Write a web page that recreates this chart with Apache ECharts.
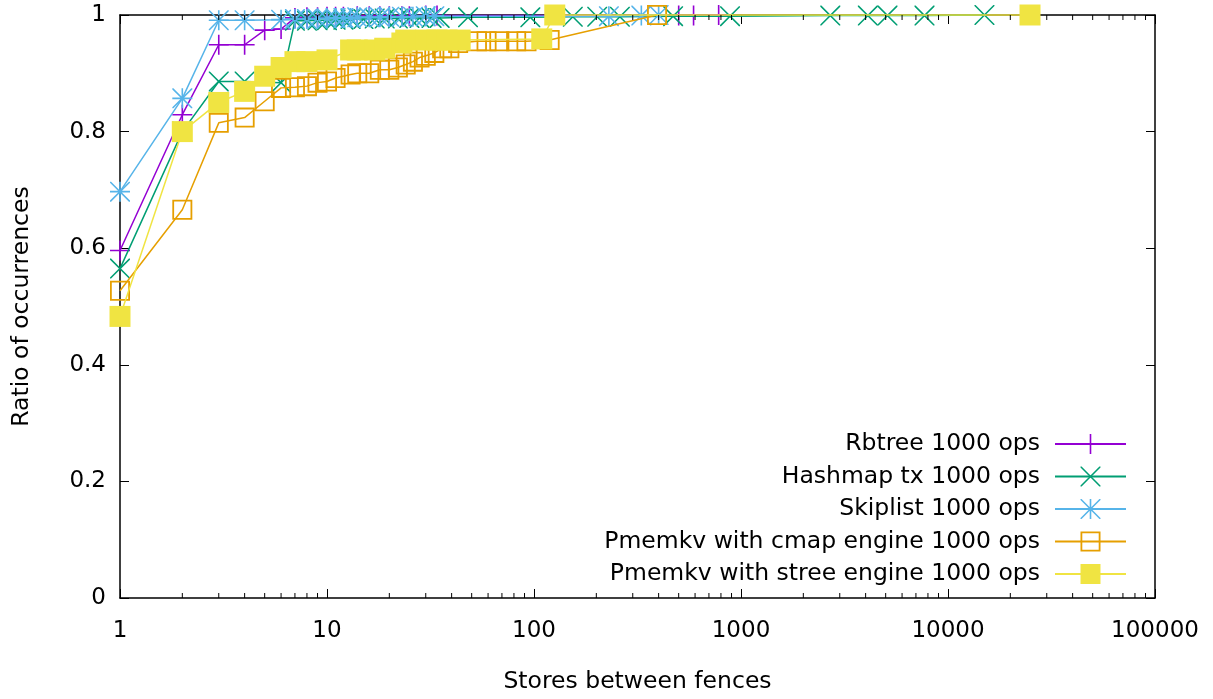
<!DOCTYPE html>
<html>
<head>
<meta charset="utf-8">
<script src="https://cdn.jsdelivr.net/npm/echarts/dist/echarts.min.js"></script>
<style>html,body{margin:0;padding:0;background:#fff;}#c{width:1213px;height:699px;}</style>
</head>
<body>
<div id="c"></div>
<script>
// ---- data ----
const seriesNames = ['Rbtree 1000 ops', 'Hashmap tx 1000 ops', 'Skiplist 1000 ops', 'Pmemkv with cmap engine 1000 ops', 'Pmemkv with stree engine 1000 ops'];
const rbX = [1,2,3,4,5,6,7,8,9,10,11,12,14,16,18,20,23,25,30,34,500,590,780];
const rbY = [0.596,0.829,0.949,0.949,0.974,0.976,0.995,0.996,0.996,0.997,0.997,0.997,0.998,0.998,0.998,0.998,0.998,0.998,0.999,0.999,0.999,0.999,1.0];
const hmX = [1,2,3,4,6,7,8,9,10,11,12,13,15,17,19,22,25,28,32,35,48,96,154,202,260,470,885,2700,4100,5100,7700,15000];
const hmY = [0.565,0.80,0.886,0.886,0.884,0.99,0.99,0.991,0.991,0.992,0.992,0.993,0.993,0.994,0.994,0.994,0.995,0.995,0.995,0.995,0.996,0.996,0.997,0.997,0.997,0.998,0.998,0.999,0.999,0.999,0.999,1.0];
const slX = [1,2,3,4,6,7,8,9,10,11,12,13,14,16,18,20,23,26,30,33,230,330,400];
const slY = [0.697,0.857,0.991,0.991,0.992,0.993,0.993,0.994,0.994,0.995,0.995,0.995,0.996,0.996,0.996,0.997,0.997,0.997,0.998,0.998,0.998,0.999,1.0];
const cmX = [1,2,3,4,5,6,7,8,9,10,11,13,14,16,18,20,22,24,26,28,30,33,36,39,43,53,59,68,82,92,119,393];
const cmY = [0.527,0.666,0.815,0.824,0.852,0.875,0.876,0.878,0.884,0.886,0.892,0.898,0.90,0.90,0.906,0.906,0.91,0.915,0.92,0.927,0.93,0.935,0.943,0.943,0.952,0.955,0.955,0.955,0.955,0.955,0.957,1.0];
const stX = [1,2,3,4,5,6,7,8,10,13,14,17,19,23,24,30,34,38,44,109,126,24900];
const stY = [0.483,0.80,0.85,0.869,0.895,0.91,0.92,0.92,0.923,0.94,0.94,0.94,0.943,0.952,0.957,0.957,0.957,0.957,0.957,0.959,1.0,1.0];
const minorTicks = [];
[1,10,100,1000,10000].forEach(d => { for (let k = 2; k <= 9; k++) minorTicks.push(k * d); });

// ---- styling ----
const FONT = 'DejaVu Sans';
const colors = ['#9400d3', '#009e73', '#56b4e9', '#e69f00', '#f0e442'];
const symPlus = 'path://M0,9.2H20V10.8H0Z M9.2,0H10.8V20H9.2Z';
const symX = 'path://M0,0L1.1,0L20,18.9L20,20L18.9,20L0,1.1Z M20,0L20,1.1L1.1,20L0,20L0,18.9L18.9,0Z';
const symStar = 'path://M0,9.2H20V10.8H0Z M9.2,0H10.8V20H9.2Z M0,0L1.1,0L20,18.9L20,20L18.9,20L0,1.1Z M20,0L20,1.1L1.1,20L0,20L0,18.9L18.9,0Z';
const symOpenSq = 'path://M0,0H20V20H0Z M1.8,1.8V18.2H18.2V1.8Z';
const symFillSq = 'rect';
const symbols = [symPlus, symX, symStar, symOpenSq, symFillSq];
const xs = [rbX, hmX, slX, cmX, stX];
const ys = [rbY, hmY, slY, cmY, stY];

const lineSeries = seriesNames.map((name, i) => ({
  name: name,
  type: 'line',
  data: xs[i].map((x, j) => [x, ys[i][j]]),
  symbol: symbols[i],
  symbolSize: i === 4 ? 21 : 20,
  showSymbol: true,
  showAllSymbol: true,
  clip: false,
  lineStyle: { color: colors[i], width: 1.5 },
  itemStyle: { color: colors[i] },
  emphasis: { disabled: true },
  z: 2 + i
}));

const minorSeries = {
  type: 'custom',
  silent: true,
  clip: false,
  z: 20,
  data: minorTicks.map(v => [v, 0]),
  renderItem: function (params, api) {
    const v = api.value(0);
    const b = api.coord([v, 0]);
    const t = api.coord([v, 1]);
    return {
      type: 'group',
      children: [
        { type: 'line', shape: { x1: b[0], y1: b[1], x2: b[0], y2: b[1] - 5 }, style: { stroke: '#000', lineWidth: 1 } },
        { type: 'line', shape: { x1: t[0], y1: t[1], x2: t[0], y2: t[1] + 5 }, style: { stroke: '#000', lineWidth: 1 } }
      ]
    };
  }
};

const axisLineStyle = { show: true, onZero: false, lineStyle: { color: '#000', width: 1.5 } };
const tickStyle = { show: true, inside: true, length: 9, lineStyle: { color: '#000', width: 1 } };

const option = {
  animation: false,
  backgroundColor: '#fff',
  grid: { left: 120, right: 58, top: 15, bottom: 98, containLabel: false },
  xAxis: [
    {
      type: 'log', logBase: 10, min: 1, max: 100000, position: 'bottom',
      axisLine: axisLineStyle, axisTick: tickStyle, splitLine: { show: false },
      axisLabel: { margin: 22, color: '#000', fontFamily: FONT, fontSize: 23, formatter: v => String(Math.round(v)) },
      name: 'Stores between fences', nameLocation: 'middle', nameGap: 72,
      nameTextStyle: { color: '#000', fontFamily: FONT, fontSize: 23.5 }
    },
    {
      type: 'log', logBase: 10, min: 1, max: 100000, position: 'top',
      axisLine: axisLineStyle, axisTick: tickStyle, splitLine: { show: false },
      axisLabel: { show: false }
    }
  ],
  yAxis: [
    {
      type: 'value', min: 0, max: 1, interval: 0.2, position: 'left',
      axisLine: axisLineStyle, axisTick: tickStyle, splitLine: { show: false },
      axisLabel: { margin: 14, color: '#000', fontFamily: FONT, fontSize: 23 },
      name: 'Ratio of occurrences', nameLocation: 'middle', nameGap: 86, nameRotate: 90,
      nameTextStyle: { color: '#000', fontFamily: FONT, fontSize: 23.5 }
    },
    {
      type: 'value', min: 0, max: 1, interval: 0.2, position: 'right',
      axisLine: axisLineStyle, axisTick: tickStyle, splitLine: { show: false },
      axisLabel: { show: false }
    }
  ],
  legend: {
    data: seriesNames,
    orient: 'vertical',
    align: 'right',
    right: 81,
    top: 426.5,
    itemWidth: 71,
    itemHeight: 25,
    itemGap: 7.5,
    selectedMode: false,
    textStyle: { color: '#000', fontFamily: FONT, fontSize: 23.5, lineHeight: 25, padding: [0, 10, 0, 0] }
  },
  series: lineSeries.concat([minorSeries])
};

const chart = echarts.init(document.getElementById('c'), null, { renderer: 'canvas' });
chart.setOption(option);
</script>
</body>
</html>
